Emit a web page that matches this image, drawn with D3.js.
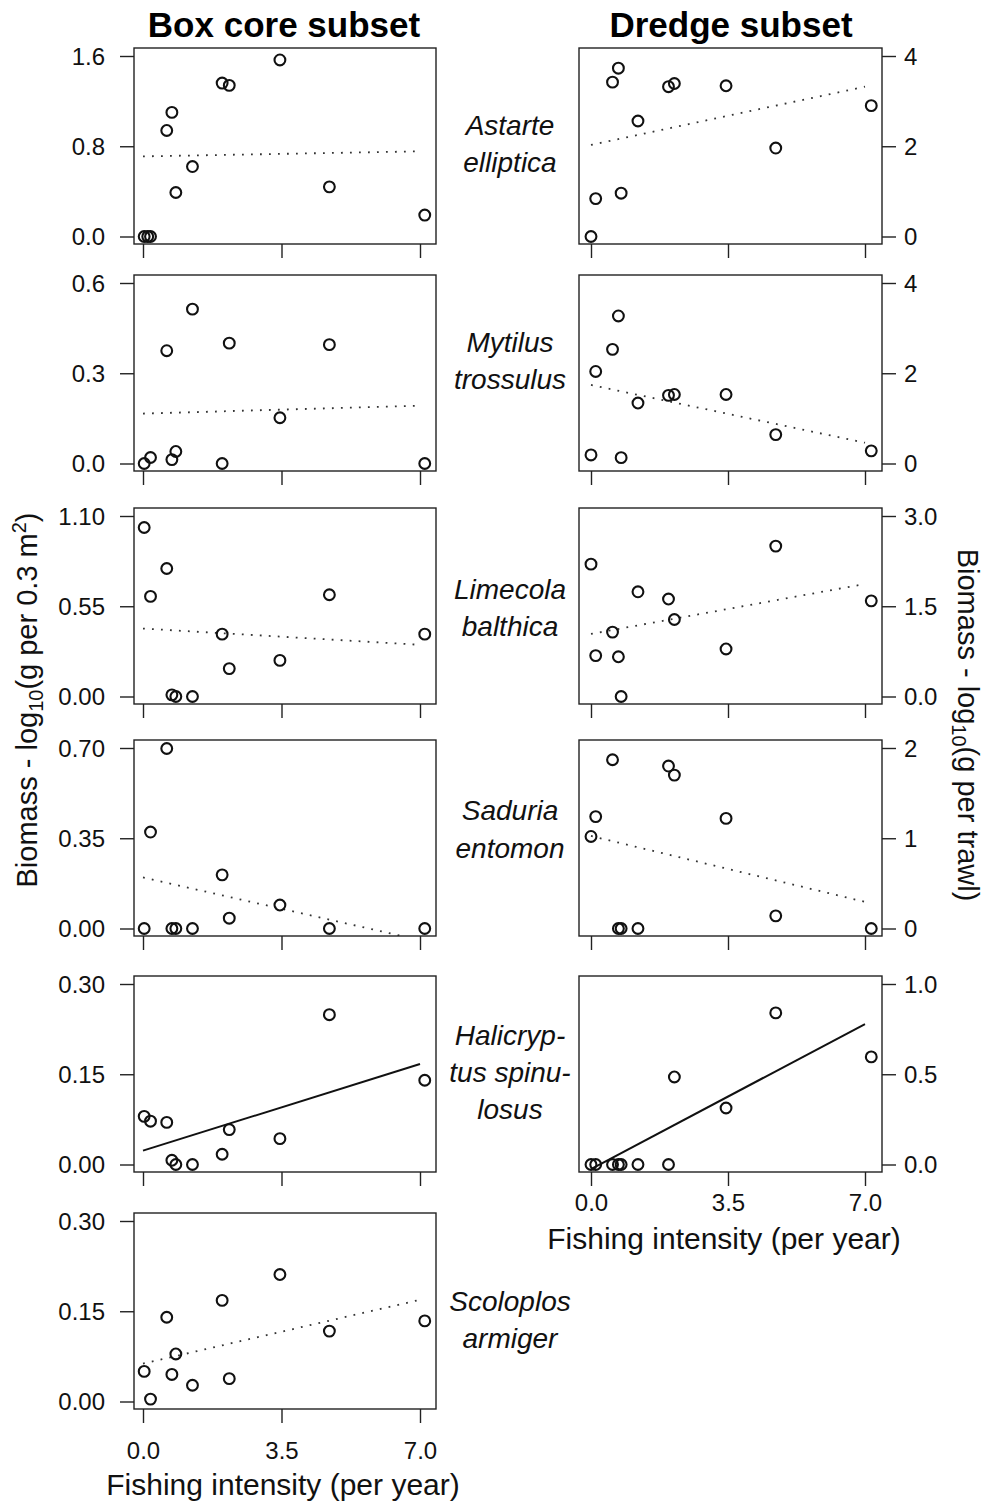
<!DOCTYPE html>
<html>
<head>
<meta charset="utf-8">
<script src="https://cdn.jsdelivr.net/npm/d3@7"></script>
<style>
  body { margin: 0; background: #fff; }
  svg { display: block; font-family: "Liberation Sans", Arial, sans-serif; }
</style>
</head>
<body>
<svg id="chart" width="987" height="1504"></svg>
<script>
// fishing intensity of each station (per year)
const boxX = [0.03, 0.12, 0.19, 0.60, 0.73, 0.83, 1.25, 2.00, 2.18, 3.46, 4.71, 7.12];
const dredgeX = [0.0, 0.12, 0.55, 0.70, 0.77, 1.20, 1.98, 2.13, 3.45, 4.72, 7.16];

const speciesNames = [
  ['Astarte', 'elliptica'],
  ['Mytilus', 'trossulus'],
  ['Limecola', 'balthica'],
  ['Saduria', 'entomon'],
  ['Halicryp-', 'tus spinu-', 'losus'],
  ['Scoloplos', 'armiger']
];

// box core biomass, log10(g per 0.3 m2) (null = no sample)
const astarteBox = [0, 0, 0, 0.94, 1.10, 0.39, 0.62, 1.36, 1.34, 1.565, 0.44, 0.19];
const mytilusBox = [0, null, 0.02, 0.375, 0.013, 0.04, 0.513, 0.0, 0.40, 0.152, 0.395, 0.0];
const limecolaBox = [1.03, null, 0.61, 0.78, 0.01, 0.0, 0.0, 0.38, 0.17, 0.22, 0.62, 0.38];
const saduriaBox = [0, null, 0.374, 0.698, 0, 0, 0, 0.208, 0.04, 0.091, 0, 0];
const halicryptusBox = [0.080, null, 0.072, 0.070, 0.007, 0.0, 0.0, 0.017, 0.058, 0.043, 0.249, 0.140];
const scoloplosBox = [0.050, null, 0.004, 0.140, 0.045, 0.079, 0.027, 0.168, 0.038, 0.211, 0.117, 0.134];

// dredge biomass, log10(g per trawl)
const astarteDredge = [0.0, 0.84, 3.42, 3.73, 0.96, 2.56, 3.32, 3.39, 3.34, 1.96, 2.90];
const mytilusDredge = [0.19, 2.04, 2.53, 3.27, 0.13, 1.34, 1.51, 1.53, 1.53, 0.64, 0.28];
const limecolaDredge = [2.2, 0.68, 1.07, 0.66, 0.0, 1.74, 1.62, 1.28, 0.79, 2.5, 1.59];
const saduriaDredge = [1.02, 1.24, 1.87, 0, 0, 0, 1.80, 1.70, 1.22, 0.14, 0];
const halicryptusDredge = [0, 0, 0, 0, 0, 0, 0, 0.485, 0.313, 0.84, 0.596];

const boxTickLabels = [
  ['0.0', '0.8', '1.6'], ['0.0', '0.3', '0.6'], ['0.00', '0.55', '1.10'],
  ['0.00', '0.35', '0.70'], ['0.00', '0.15', '0.30'], ['0.00', '0.15', '0.30']
];
const dredgeTickLabels = [
  ['0', '2', '4'], ['0', '2', '4'], ['0.0', '1.5', '3.0'], ['0', '1', '2'], ['0.0', '0.5', '1.0']
];
const xTickLabels = ['0.0', '3.5', '7.0'];

// fitted regression: value at 0 and at 7 per year; solid = significant
const boxFits = [[0.71, 0.755], [0.166, 0.192], [0.414, 0.315], [0.198, -0.045], [0.023, 0.167], [0.063, 0.169]];
const boxSolid = [false, false, false, false, true, false];
const dredgeFits = [[2.03, 3.32], [1.74, 0.46], [1.04, 1.87], [1.025, 0.295], [-0.025, 0.778]];
const dredgeSolid = [false, false, false, false, true];

const boxSeries = [astarteBox, mytilusBox, limecolaBox, saduriaBox, halicryptusBox, scoloplosBox];
const dredgeSeries = [astarteDredge, mytilusDredge, limecolaDredge, saduriaDredge, halicryptusDredge];

const svg = d3.select('#chart');
const rowTop = [48, 275, 508, 740, 976, 1213];
const boxH = 196;
const tickLen = 14;

const cols = {
  box: { left: 134, right: 436, zero: 143, seven: 420, side: 'left', xPad: 19 },
  dredge: { left: 579, right: 882, zero: 591, seven: 865, side: 'right', xPad: 8 }
};

function drawPanel(col, row, xs, ys, ticks, fit, solid, lastRow, id) {
  const c = cols[col];
  const top = rowTop[row];
  const bottom = top + boxH;
  const x = d3.scaleLinear().domain([0, 7]).range([c.zero, c.seven]);
  const tickVals = ticks.map(Number);
  const y = d3.scaleLinear().domain([0, tickVals[2]]).range([bottom - 7.5, top + 8]);

  const g = svg.append('g').attr('class', 'panel');

  g.append('clipPath').attr('id', id)
    .append('rect')
    .attr('x', c.left).attr('y', top)
    .attr('width', c.right - c.left).attr('height', boxH);

  // y axis
  const yAxis = (c.side === 'left' ? d3.axisLeft(y) : d3.axisRight(y))
    .tickValues(tickVals)
    .tickFormat((d, i) => ticks[i])
    .tickSize(tickLen)
    .tickPadding(c.side === 'left' ? 15 : 8);
  const ya = g.append('g')
    .attr('transform', `translate(${c.side === 'left' ? c.left : c.right},0)`)
    .call(yAxis);
  ya.select('.domain').remove();
  ya.selectAll('line').attr('stroke', '#222').attr('stroke-width', 1.4);
  ya.selectAll('text').attr('font-size', 24).attr('fill', '#111').attr('dy', '0.35em');

  // x axis
  const xAxis = d3.axisBottom(x)
    .tickValues([0, 3.5, 7])
    .tickFormat((d, i) => (lastRow ? xTickLabels[i] : ''))
    .tickSize(tickLen)
    .tickPadding(c.xPad);
  const xa = g.append('g')
    .attr('transform', `translate(0,${bottom})`)
    .call(xAxis);
  xa.select('.domain').remove();
  xa.selectAll('line').attr('stroke', '#222').attr('stroke-width', 1.4);
  xa.selectAll('text').attr('font-size', 24).attr('fill', '#111');

  // regression line
  g.append('line')
    .attr('clip-path', `url(#${id})`)
    .attr('x1', x(0)).attr('y1', y(fit[0]))
    .attr('x2', x(7)).attr('y2', y(fit[1]))
    .attr('stroke', solid ? '#111' : '#333')
    .attr('stroke-width', solid ? 2 : 1.8)
    .attr('stroke-dasharray', solid ? null : '1.8 7.2');

  // points
  const pts = xs.map((v, i) => ({ x: v, y: ys[i] })).filter(d => d.y !== null);
  g.selectAll('circle')
    .data(pts)
    .enter()
    .append('circle')
    .attr('cx', d => x(d.x))
    .attr('cy', d => y(d.y))
    .attr('r', 5.4)
    .attr('fill', 'none')
    .attr('stroke', '#111')
    .attr('stroke-width', 2.1);

  // box
  g.append('rect')
    .attr('x', c.left).attr('y', top)
    .attr('width', c.right - c.left).attr('height', boxH)
    .attr('fill', 'none')
    .attr('stroke', '#222')
    .attr('stroke-width', 1.4);
}

boxSeries.forEach((ys, i) => {
  drawPanel('box', i, boxX, ys, boxTickLabels[i], boxFits[i], boxSolid[i], i === boxSeries.length - 1, `clipB${i}`);
});
dredgeSeries.forEach((ys, i) => {
  drawPanel('dredge', i, dredgeX, ys, dredgeTickLabels[i], dredgeFits[i], dredgeSolid[i], i === dredgeSeries.length - 1, `clipD${i}`);
});

// species names between columns
const nameY = [[125, 162], [342, 379], [589, 626], [810, 848], [1035, 1072, 1109], [1301, 1338]];
speciesNames.forEach((lines, i) => {
  const t = svg.append('text')
    .attr('text-anchor', 'middle')
    .attr('font-size', 28)
    .attr('font-style', 'italic')
    .attr('fill', '#111');
  lines.forEach((s, j) => {
    t.append('tspan')
      .attr('x', 510)
      .attr('y', nameY[i][j])
      .attr('dy', '0.35em')
      .text(s);
  });
});

// column titles
svg.append('text').attr('x', 284).attr('y', 37)
  .attr('text-anchor', 'middle').attr('font-size', 35).attr('font-weight', 'bold')
  .text('Box core subset');
svg.append('text').attr('x', 731).attr('y', 37)
  .attr('text-anchor', 'middle').attr('font-size', 35).attr('font-weight', 'bold')
  .text('Dredge subset');

// x axis titles
svg.append('text').attr('x', 283).attr('y', 1495)
  .attr('text-anchor', 'middle').attr('font-size', 30).attr('fill', '#111')
  .text('Fishing intensity (per year)');
svg.append('text').attr('x', 724).attr('y', 1249)
  .attr('text-anchor', 'middle').attr('font-size', 30).attr('fill', '#111')
  .text('Fishing intensity (per year)');

// y axis titles
const yl = svg.append('text')
  .attr('transform', 'translate(37,700) rotate(-90)')
  .attr('text-anchor', 'middle').attr('font-size', 29).attr('fill', '#111');
yl.append('tspan').text('Biomass - log');
yl.append('tspan').attr('font-size', 20).attr('dy', 6).text('10');
yl.append('tspan').attr('dy', -6).text('(g per 0.3 m');
yl.append('tspan').attr('font-size', 20).attr('dy', -11).text('2');
yl.append('tspan').attr('dy', 11).text(')');

const yr = svg.append('text')
  .attr('transform', 'translate(958,725) rotate(90)')
  .attr('text-anchor', 'middle').attr('font-size', 29).attr('fill', '#111');
yr.append('tspan').text('Biomass - log');
yr.append('tspan').attr('font-size', 20).attr('dy', 6).text('10');
yr.append('tspan').attr('dy', -6).text('(g per trawl)');
</script>
</body>
</html>
